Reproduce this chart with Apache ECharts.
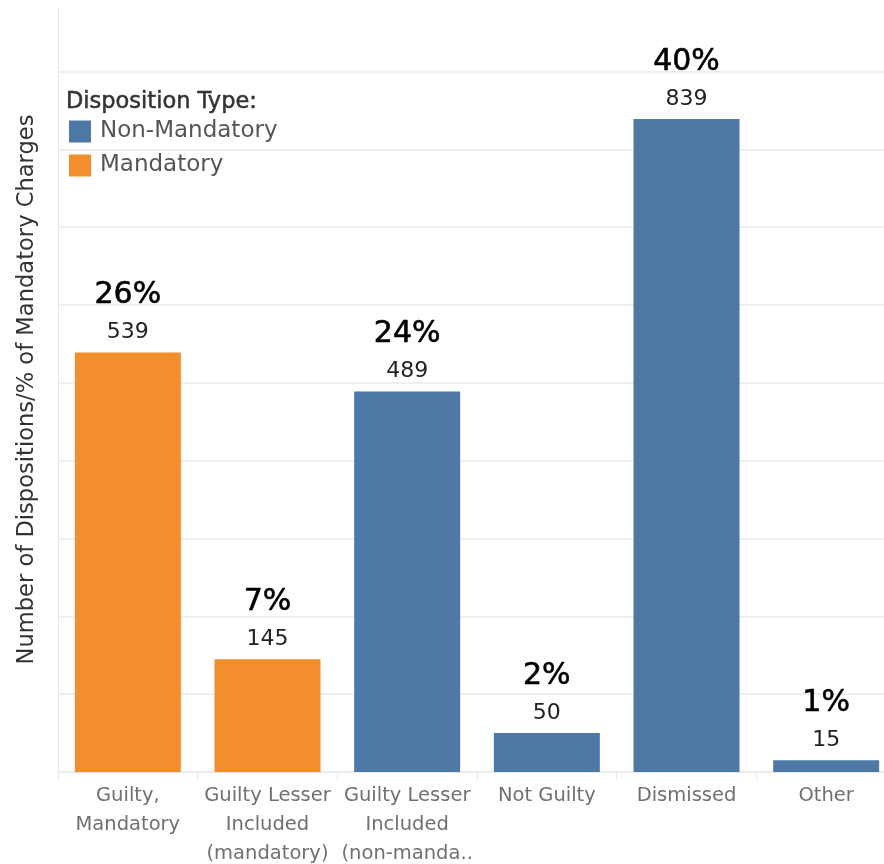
<!DOCTYPE html>
<html><head><meta charset="utf-8">
<script src="https://cdn.jsdelivr.net/npm/echarts@6/dist/echarts.min.js"></script>
<style>html,body{margin:0;padding:0;background:#fff}#c{width:884px;height:864px}</style>
</head><body><div id="c"></div>
<script>
const categories = ["Guilty,\nMandatory", "Guilty Lesser\nIncluded\n(mandatory)", "Guilty Lesser\nIncluded\n(non-manda..", "Not Guilty", "Dismissed", "Other"];
const mandatory = [539, 145, '-', '-', '-', '-'];
const nonMandatory = ['-', '-', 489, 50, 839, 15];
const percents = ["26%", "7%", "24%", "2%", "40%", "1%"];
const FONT = "DejaVu Sans";

const chart = echarts.init(document.getElementById('c'));
const labelCfg = {
  show: true, position: 'top', distance: 5,
  formatter: p => '{p|' + percents[p.dataIndex] + '}\n{v|' + p.value + '}',
  rich: {
    p: {fontSize: 30, fontWeight: 'normal', color: '#000', lineHeight: 44, fontFamily: FONT, textBorderColor: '#000', textBorderWidth: 0.6},
    v: {fontSize: 22, color: '#222', lineHeight: 30, fontFamily: FONT}
  }
};
const gridColors = [];
for (let i = 0; i < 10; i++) gridColors.push('#efefef');
gridColors.push('rgba(0,0,0,0)');
chart.setOption({
  animation: false,
  textStyle: {fontFamily: FONT},
  title: {text: 'Disposition Type:', left: 66, top: 91, padding: 0, textStyle: {fontSize: 22.5, fontWeight: 'normal', color: '#333', fontFamily: FONT, textBorderColor: '#333', textBorderWidth: 0.5}},
  legend: {
    orient: 'vertical', left: 69, top: 120, padding: 0, itemWidth: 22, itemHeight: 22, itemGap: 11, icon: 'rect',
    data: ['Non-Mandatory', 'Mandatory'],
    textStyle: {fontSize: 23, color: '#555', fontFamily: FONT, padding: [3, 0, 0, 4]}
  },
  grid: {left: 58, width: 838, top: 7, bottom: 92, containLabel: false, outerBoundsMode: 'none'},
  xAxis: {
    type: 'category', data: categories,
    axisLine: {show: true, lineStyle: {color: '#e8e8e8', width: 1}},
    axisTick: {show: true, length: 8, interval: 0, lineStyle: {color: '#e8e8e8'}},
    axisLabel: {interval: 0, fontSize: 19.5, color: '#707070', lineHeight: 29, margin: 9, fontFamily: FONT}
  },
  yAxis: {
    type: 'value', min: 0, max: 983, interval: 100,
    name: 'Number of Dispositions/% of Mandatory Charges', nameLocation: 'middle', nameGap: 19, nameRotate: 90,
    nameTextStyle: {fontSize: 22.6, color: '#333', fontFamily: FONT},
    axisLabel: {show: false}, axisTick: {show: false},
    axisLine: {show: true, lineStyle: {color: '#e8e8e8'}},
    splitLine: {show: true, lineStyle: {color: gridColors, width: 2}}
  },
  series: [
    {name: 'Non-Mandatory', type: 'bar', stack: 't', barWidth: 106, data: nonMandatory, itemStyle: {color: '#4E79A7'}, label: labelCfg},
    {name: 'Mandatory', type: 'bar', stack: 't', barWidth: 106, data: mandatory, itemStyle: {color: '#F28E2B'}, label: labelCfg}
  ]
});
</script></body></html>
